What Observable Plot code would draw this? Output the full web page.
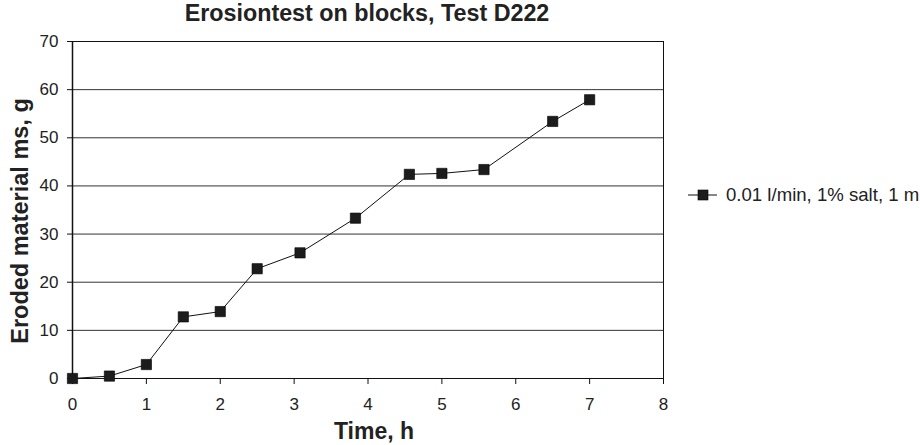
<!DOCTYPE html>
<html><head><meta charset="utf-8">
<script src="https://cdn.jsdelivr.net/npm/d3@7"></script>
<script src="https://cdn.jsdelivr.net/npm/@observablehq/plot@0.6"></script>
<style>
body{margin:0;background:#fff;overflow:hidden;}
#wrap{position:relative;width:920px;height:445px;overflow:hidden;font-family:"Liberation Sans",Arial,sans-serif;color:#222;background:#fff;}
#wrap svg.plot{position:absolute;left:0;top:0;}
.t{position:absolute;white-space:nowrap;}
#title{left:0;width:734px;top:0;text-align:center;font-weight:bold;font-size:23.3px;line-height:26px;}
#xlab{left:174px;width:400px;top:418px;text-align:center;font-weight:bold;font-size:23px;line-height:26px;}
#ylab{left:-180px;width:400px;top:208px;text-align:center;font-weight:bold;font-size:23.5px;line-height:26px;transform:rotate(-90deg);transform-origin:50% 50%;}
#legend{left:688px;top:183px;height:24px;display:flex;align-items:center;font-size:18.6px;}
#legend svg{margin-right:8px;}
</style></head>
<body><div id="wrap">
<div class="t" id="title"></div>
<div class="t" id="xlab"></div>
<div class="t" id="ylab"></div>
<div class="t" id="legend"></div>
</div>
<script>
const titleText = "Erosiontest on blocks, Test D222";
const xLabel = "Time, h";
const yLabel = "Eroded material ms, g";
const seriesName = "0.01 l/min, 1% salt, 1 m";
const time = [0, 0.5, 1, 1.5, 2, 2.5, 3.08, 3.83, 4.56, 5.0, 5.57, 6.5, 7.0];
const eroded = [0, 0.5, 2.9, 12.8, 13.9, 22.8, 26.1, 33.3, 42.4, 42.6, 43.4, 53.4, 57.9];
const xTicks = [0, 1, 2, 3, 4, 5, 6, 7, 8];
const yTicks = [0, 10, 20, 30, 40, 50, 60, 70];

const data = time.map((t, i) => ({time: t, eroded: eroded[i]}));

const chart = Plot.plot({
  width: 920, height: 445,
  marginLeft: 72, marginRight: 257, marginTop: 41, marginBottom: 67,
  x: {domain: [0, 8]},
  y: {domain: [0, 70]},
  style: {fontFamily: '"Liberation Sans", Arial, sans-serif', background: "transparent", color: "#222", overflow: "visible"},
  marks: [
    Plot.ruleY(yTicks, {stroke: "#333", strokeWidth: 1}),
    Plot.frame({stroke: "#111", strokeWidth: 1}),
    Plot.ruleX([0], {stroke: "#111", strokeWidth: 1.5}),
    Plot.axisX({ticks: xTicks, tickSize: 6, tickPadding: 13, fontSize: 17, label: null, stroke: "#111", tickFormat: d => String(d)}),
    Plot.axisY({ticks: yTicks, tickSize: 5, tickPadding: 9, fontSize: 17, label: null, stroke: "#111", tickFormat: d => String(d)}),
    Plot.line(data, {x: "time", y: "eroded", stroke: "#111", strokeWidth: 1}),
    Plot.dot(data, {x: "time", y: "eroded", symbol: "square", r: 5.8, fill: "#1c1c1c", stroke: "#000", strokeWidth: 0.6})
  ]
});
chart.classList.add("plot");
document.getElementById("wrap").prepend(chart);

document.getElementById("title").textContent = titleText;
document.getElementById("xlab").textContent = xLabel;
document.getElementById("ylab").textContent = yLabel;

const legend = document.getElementById("legend");
const sw = d3.create("svg").attr("width", 30).attr("height", 14);
sw.append("line").attr("x1", 0).attr("x2", 29).attr("y1", 7).attr("y2", 7).attr("stroke", "#111").attr("stroke-width", 1);
sw.append("rect").attr("x", 10).attr("y", 2).attr("width", 10).attr("height", 10).attr("fill", "#1c1c1c").attr("stroke", "#000").attr("stroke-width", 0.6);
legend.append(sw.node());
const lt = document.createElement("span");
lt.textContent = seriesName;
legend.append(lt);
</script>
</body></html>
